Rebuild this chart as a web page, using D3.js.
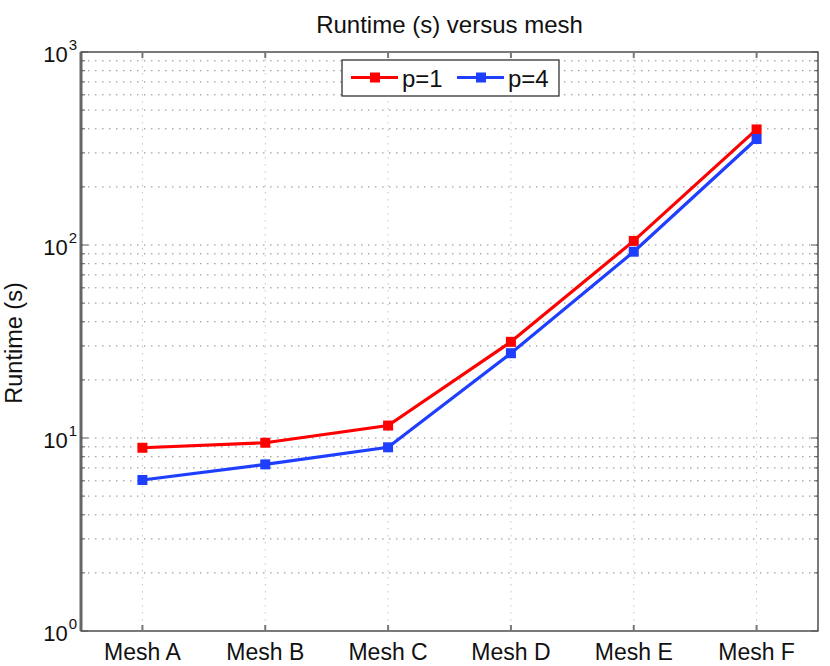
<!DOCTYPE html>
<html><head><meta charset="utf-8">
<script src="https://cdn.jsdelivr.net/npm/d3@7"></script>
<style>body{margin:0;background:#fff}svg{font-family:"Liberation Sans",Arial,sans-serif}</style>
</head><body><svg id="c" width="830" height="666"></svg>
<script>
const categories = ["Mesh A","Mesh B","Mesh C","Mesh D","Mesh E","Mesh F"];
const p1 = [8.9, 9.45, 11.6, 31.5, 105, 397];
const p4 = [6.06, 7.3, 8.95, 27.5, 92.3, 354];
const seriesNames = ["p=1","p=4"];
const colors = ["#ff0000","#1f3fff"];
const yTickExps = [0,1,2,3];

const svg = d3.select("#c");
const L=81, R=818, T=52, B=631;
const x = d3.scaleLinear().domain([0.5,6.5]).range([L,R]);
const y = d3.scaleLog().domain([1,1000]).range([B,T]);

// grid
const minor = [];
for (let e=0;e<3;e++) for (let k=1;k<=9;k++) minor.push(k*Math.pow(10,e));
minor.push(1000);
const isMajor = d => yTickExps.some(e=>Math.pow(10,e)===d);
const g = svg.append("g");
g.selectAll("line.v").data(categories).join("line")
 .attr("x1",(d,i)=>x(i+1)).attr("x2",(d,i)=>x(i+1)).attr("y1",T).attr("y2",B)
 .attr("stroke","#c4c4c4").attr("stroke-width",1).attr("stroke-dasharray","1.5,5.5");
g.selectAll("line.h").data(minor.filter(v=>v>1&&v<1000)).join("line")
 .attr("x1",L).attr("x2",R).attr("y1",d=>y(d)).attr("y2",d=>y(d))
 .attr("stroke","#8a8a8a").attr("stroke-width",1).attr("stroke-dasharray","1.5,5.5");

// box
svg.append("rect").attr("x",L).attr("y",T).attr("width",R-L).attr("height",B-T)
 .attr("fill","none").attr("stroke","#222").attr("stroke-width",1.2);
svg.append("line").attr("x1",L).attr("x2",L).attr("y1",T).attr("y2",B).attr("stroke","#666").attr("stroke-width",3);

// inner ticks
svg.selectAll("line.ytl").data(minor).join("line")
 .attr("x1",L).attr("x2",d=>L+(isMajor(d)?7:4)).attr("y1",d=>y(d)).attr("y2",d=>y(d)).attr("stroke","#555");
svg.selectAll("line.ytr").data(minor).join("line")
 .attr("x1",R).attr("x2",d=>R-(isMajor(d)?7:4)).attr("y1",d=>y(d)).attr("y2",d=>y(d)).attr("stroke","#555");
svg.selectAll("line.xtb").data(categories).join("line")
 .attr("x1",(d,i)=>x(i+1)).attr("x2",(d,i)=>x(i+1)).attr("y1",B).attr("y2",B-6).attr("stroke","#777").attr("stroke-width",2);
svg.selectAll("line.xtt").data(categories).join("line")
 .attr("x1",(d,i)=>x(i+1)).attr("x2",(d,i)=>x(i+1)).attr("y1",T).attr("y2",T+6).attr("stroke","#777").attr("stroke-width",2);

// x labels
svg.selectAll("text.xl").data(categories).join("text")
 .attr("x",(d,i)=>x(i+1)).attr("y",B+29).attr("text-anchor","middle")
 .attr("font-size",23).attr("fill","#111").text(d=>d);
// y labels
const yl = svg.selectAll("text.yl").data(yTickExps).join("text")
 .attr("x",L-4).attr("y",d=>y(Math.pow(10,d))+10).attr("text-anchor","end").attr("fill","#111");
yl.append("tspan").attr("font-size",22).text("10");
yl.append("tspan").attr("dy",-12).attr("dx",1).attr("font-size",15).text(d=>d);

// title + y label
svg.append("text").attr("x",(L+R)/2).attr("y",33).attr("text-anchor","middle").attr("font-size",24).attr("fill","#111").text("Runtime (s) versus mesh");
svg.append("text").attr("transform","translate(22,343) rotate(-90)").attr("text-anchor","middle").attr("font-size",23.5).attr("fill","#111").text("Runtime (s)");

// series
const data = [p1,p4];
const line = d3.line().x((d,i)=>x(i+1)).y(d=>y(d));
data.forEach((s,k)=>{
  svg.append("path").datum(s).attr("d",line).attr("fill","none").attr("stroke",colors[k]).attr("stroke-width",3.2);
  svg.selectAll("rect.m"+k).data(s).join("rect")
   .attr("x",(d,i)=>x(i+1)-5).attr("y",d=>y(d)-5).attr("width",10).attr("height",10).attr("fill",colors[k]);
});

// legend
const lg = svg.append("g");
lg.append("rect").attr("x",342).attr("y",60).attr("width",217).attr("height",36).attr("fill","#fff").attr("stroke","#222").attr("stroke-width",1.2);
const lx = [351,457];
seriesNames.forEach((n,k)=>{
  lg.append("line").attr("x1",lx[k]).attr("x2",lx[k]+47).attr("y1",77.5).attr("y2",77.5).attr("stroke",colors[k]).attr("stroke-width",3.2);
  lg.append("rect").attr("x",lx[k]+19).attr("y",72.5).attr("width",10).attr("height",10).attr("fill",colors[k]);
  lg.append("text").attr("x",lx[k]+51).attr("y",87).attr("font-size",24).attr("fill","#111").text(n);
});
</script></body></html>
